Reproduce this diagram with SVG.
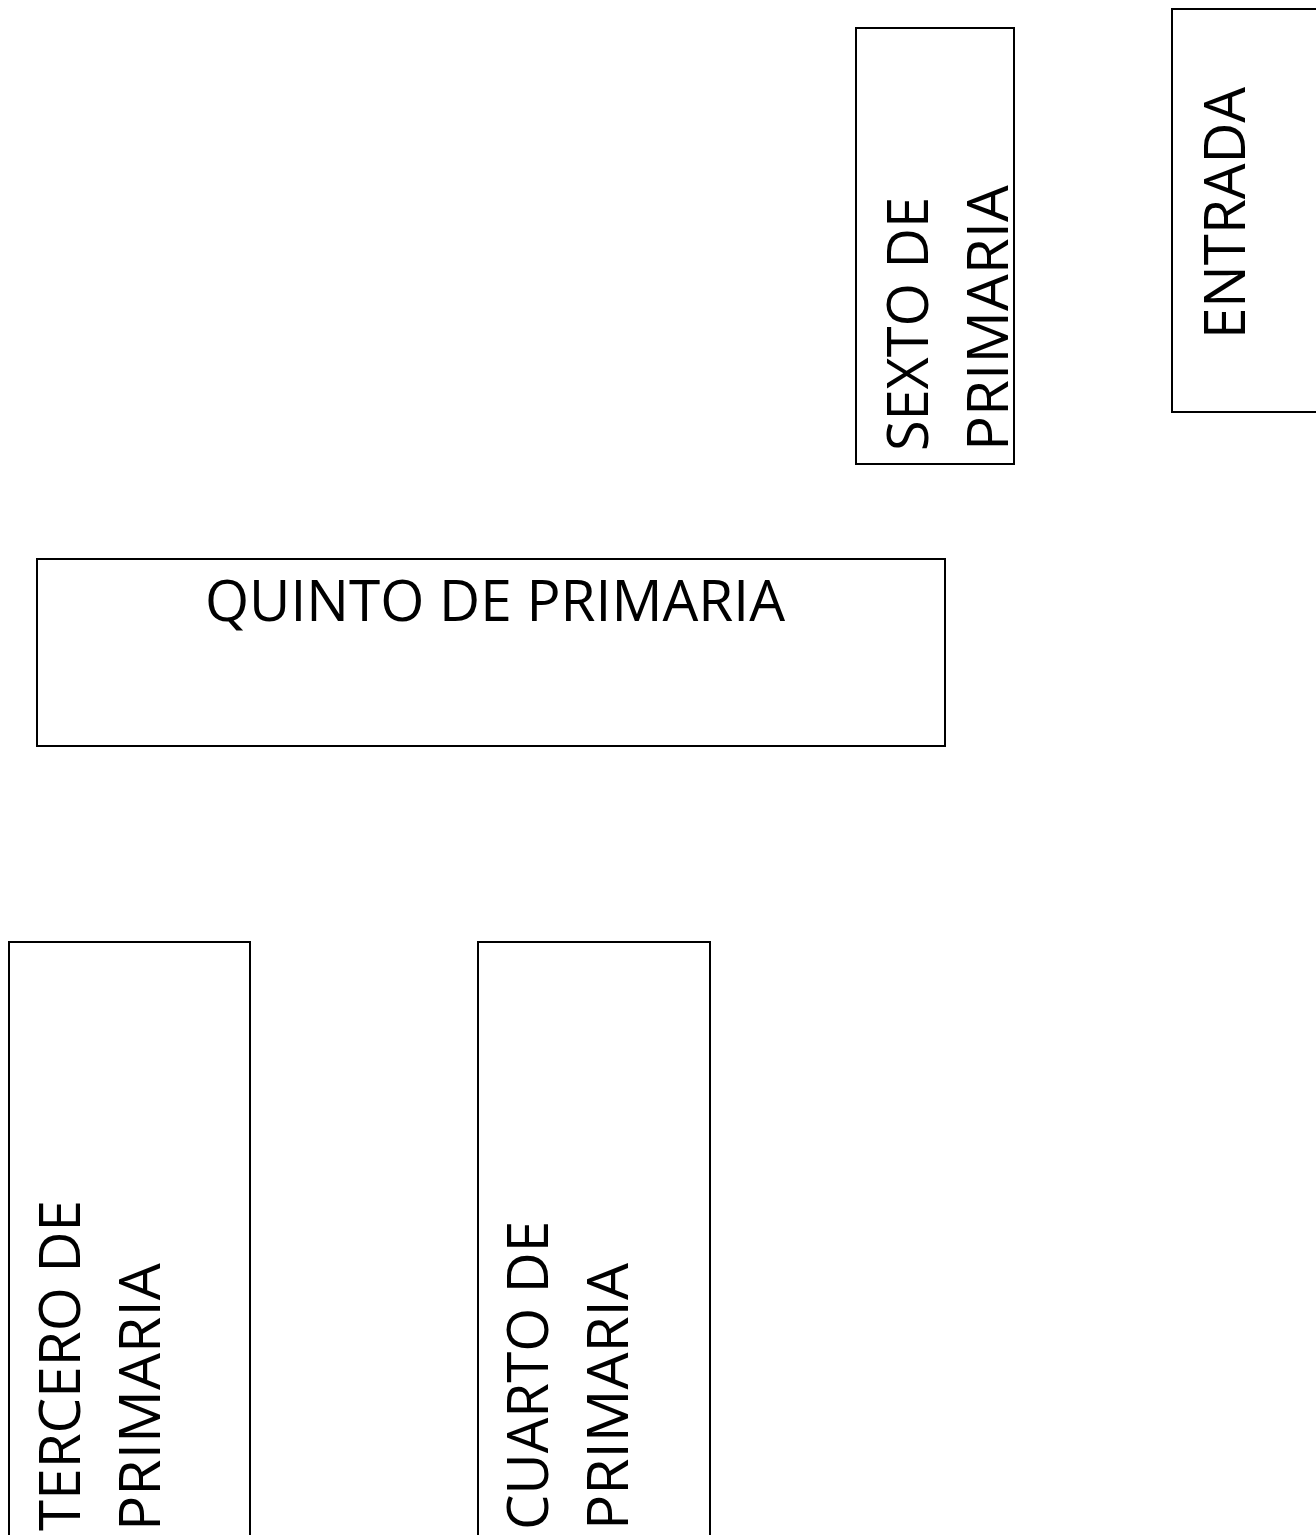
<svg xmlns="http://www.w3.org/2000/svg" width="1316" height="1535" viewBox="0 0 1316 1535">
<style>
.box{fill:#fff;stroke:#000;stroke-width:2}
.t{font-family:"Open Sans","Noto Sans","Liberation Sans",sans-serif;font-size:57px;fill:#000}
</style>
<rect width="1316" height="1535" fill="#fff"/>
<g id="sexto">
<rect class="box" x="856" y="28" width="158" height="436"/>
<text class="t" transform="translate(928,451) rotate(-90)" textLength="254" lengthAdjust="spacingAndGlyphs">SEXTO DE</text>
<text class="t" transform="translate(1008,451) rotate(-90)" textLength="266" lengthAdjust="spacingAndGlyphs">PRIMARIA</text>
</g>
<g id="entrada">
<rect class="box" x="1172" y="9" width="200" height="403"/>
<text class="t" transform="translate(1245,339) rotate(-90)" textLength="252" lengthAdjust="spacingAndGlyphs">ENTRADA</text>
</g>
<g id="quinto">
<rect class="box" x="37" y="559" width="908" height="187"/>
<text class="t" x="205" y="621" textLength="580" lengthAdjust="spacingAndGlyphs">QUINTO DE PRIMARIA</text>
</g>
<g id="tercero">
<rect class="box" x="9" y="942" width="241" height="620"/>
<text class="t" transform="translate(80,1531) rotate(-90)" textLength="331" lengthAdjust="spacingAndGlyphs">TERCERO DE</text>
<text class="t" transform="translate(160,1531) rotate(-90)" textLength="268" lengthAdjust="spacingAndGlyphs">PRIMARIA</text>
</g>
<g id="cuarto">
<rect class="box" x="478" y="942" width="232" height="620"/>
<text class="t" transform="translate(548,1530) rotate(-90)" textLength="309" lengthAdjust="spacingAndGlyphs">CUARTO DE</text>
<text class="t" transform="translate(628,1530) rotate(-90)" textLength="267" lengthAdjust="spacingAndGlyphs">PRIMARIA</text>
</g>
<g id="connectors"></g>
</svg>
